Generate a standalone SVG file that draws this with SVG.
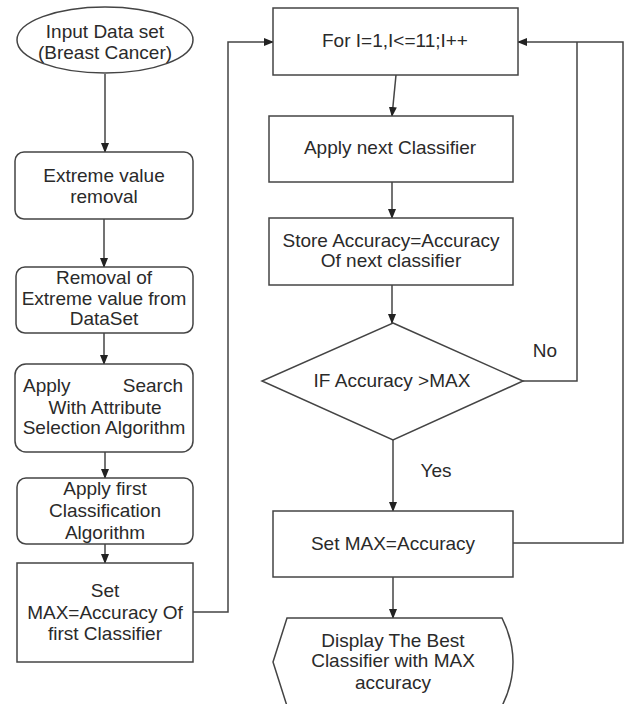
<svg xmlns="http://www.w3.org/2000/svg" width="629" height="704" viewBox="0 0 629 704">
<style>
.n{fill:#fff;stroke:#444;stroke-width:1.5}
.t{font-family:"Liberation Sans",Arial,sans-serif;font-size:19px;fill:#2a2a2a;text-anchor:middle;dominant-baseline:central}
.c{fill:none;stroke:#444;stroke-width:1.5}
.a{marker-end:url(#ah)}
</style>
<defs>
<marker id="ah" markerWidth="10" markerHeight="8" refX="9" refY="4" orient="auto" markerUnits="userSpaceOnUse">
<path d="M0,0 L10,4 L0,8 Z" fill="#222"/>
</marker>
</defs>
<rect width="629" height="704" fill="#fff"/>
<g id="connectors">
<line class="c a" x1="105" y1="74" x2="105" y2="152"/>
<line class="c a" x1="104" y1="219" x2="104" y2="267"/>
<line class="c a" x1="104" y1="333" x2="104" y2="364"/>
<line class="c a" x1="105" y1="452" x2="105" y2="478"/>
<line class="c a" x1="105" y1="544" x2="105" y2="563"/>
<polyline class="c a" points="193,612 228,612 228,42 273,42"/>
<line class="c a" x1="396" y1="75" x2="392" y2="116"/>
<line class="c a" x1="392" y1="182" x2="392" y2="218"/>
<line class="c a" x1="392" y1="285" x2="392" y2="323"/>
<polyline class="c" points="523,381 577,381 577,42"/>
<line class="c a" x1="393" y1="440" x2="393" y2="511"/>
<polyline class="c a" points="513,543 623,543 623,42 518,42"/>
<line class="c a" x1="393" y1="577" x2="393" y2="618"/>
<text class="t" x="545" y="350">No</text>
<text class="t" x="436" y="470">Yes</text>
</g>
<g id="start">
<ellipse class="n" cx="105" cy="40" rx="88" ry="33"/>
<text class="t" x="105" y="31">Input Data set</text>
<text class="t" x="105" y="52">(Breast Cancer)</text>
</g>
<g id="extreme">
<rect class="n" x="15" y="152" width="178" height="67" rx="9"/>
<text class="t" x="104" y="175">Extreme value</text>
<text class="t" x="104" y="196">removal</text>
</g>
<g id="removal">
<rect class="n" x="16" y="267" width="177" height="66" rx="9"/>
<text class="t" x="104" y="277">Removal of</text>
<text class="t" x="104" y="298">Extreme value from</text>
<text class="t" x="104" y="318">DataSet</text>
</g>
<g id="search">
<rect class="n" x="15" y="364" width="178" height="88" rx="11"/>
<text class="t" x="23" y="385" style="text-anchor:start">Apply</text>
<text class="t" x="183" y="385" style="text-anchor:end">Search</text>
<text class="t" x="105" y="407">With Attribute</text>
<text class="t" x="104" y="427">Selection Algorithm</text>
</g>
<g id="classify">
<rect class="n" x="17" y="478" width="176" height="66" rx="9"/>
<text class="t" x="105" y="488">Apply first</text>
<text class="t" x="105" y="510">Classification</text>
<text class="t" x="105" y="532">Algorithm</text>
</g>
<g id="setmax1">
<rect class="n" x="17" y="563" width="176" height="99"/>
<text class="t" x="105" y="590">Set</text>
<text class="t" x="105" y="612">MAX=Accuracy Of</text>
<text class="t" x="105" y="633">first Classifier</text>
</g>
<g id="loop">
<rect class="n" x="273" y="8" width="245" height="67"/>
<text class="t" x="395" y="40">For I=1,I&lt;=11;I++</text>
</g>
<g id="apply">
<rect class="n" x="269" y="116" width="244" height="66"/>
<text class="t" x="390" y="147">Apply next Classifier</text>
</g>
<g id="store">
<rect class="n" x="269" y="218" width="244" height="67"/>
<text class="t" x="391" y="240">Store Accuracy=Accuracy</text>
<text class="t" x="391" y="260">Of next classifier</text>
</g>
<g id="decision">
<polygon class="n" points="393,323 523,381 393,440 262,381"/>
<text class="t" x="392" y="380">IF Accuracy &gt;MAX</text>
</g>
<g id="setmax2">
<rect class="n" x="273" y="511" width="240" height="66"/>
<text class="t" x="393" y="543">Set MAX=Accuracy</text>
</g>
<g id="display">
<path class="n" d="M287,618 L502,618 Q524,662 502,706 L287,706 L273,662 Z"/>
<text class="t" x="393" y="640">Display The Best</text>
<text class="t" x="393" y="660">Classifier with MAX</text>
<text class="t" x="393" y="682">accuracy</text>
</g>
</svg>
